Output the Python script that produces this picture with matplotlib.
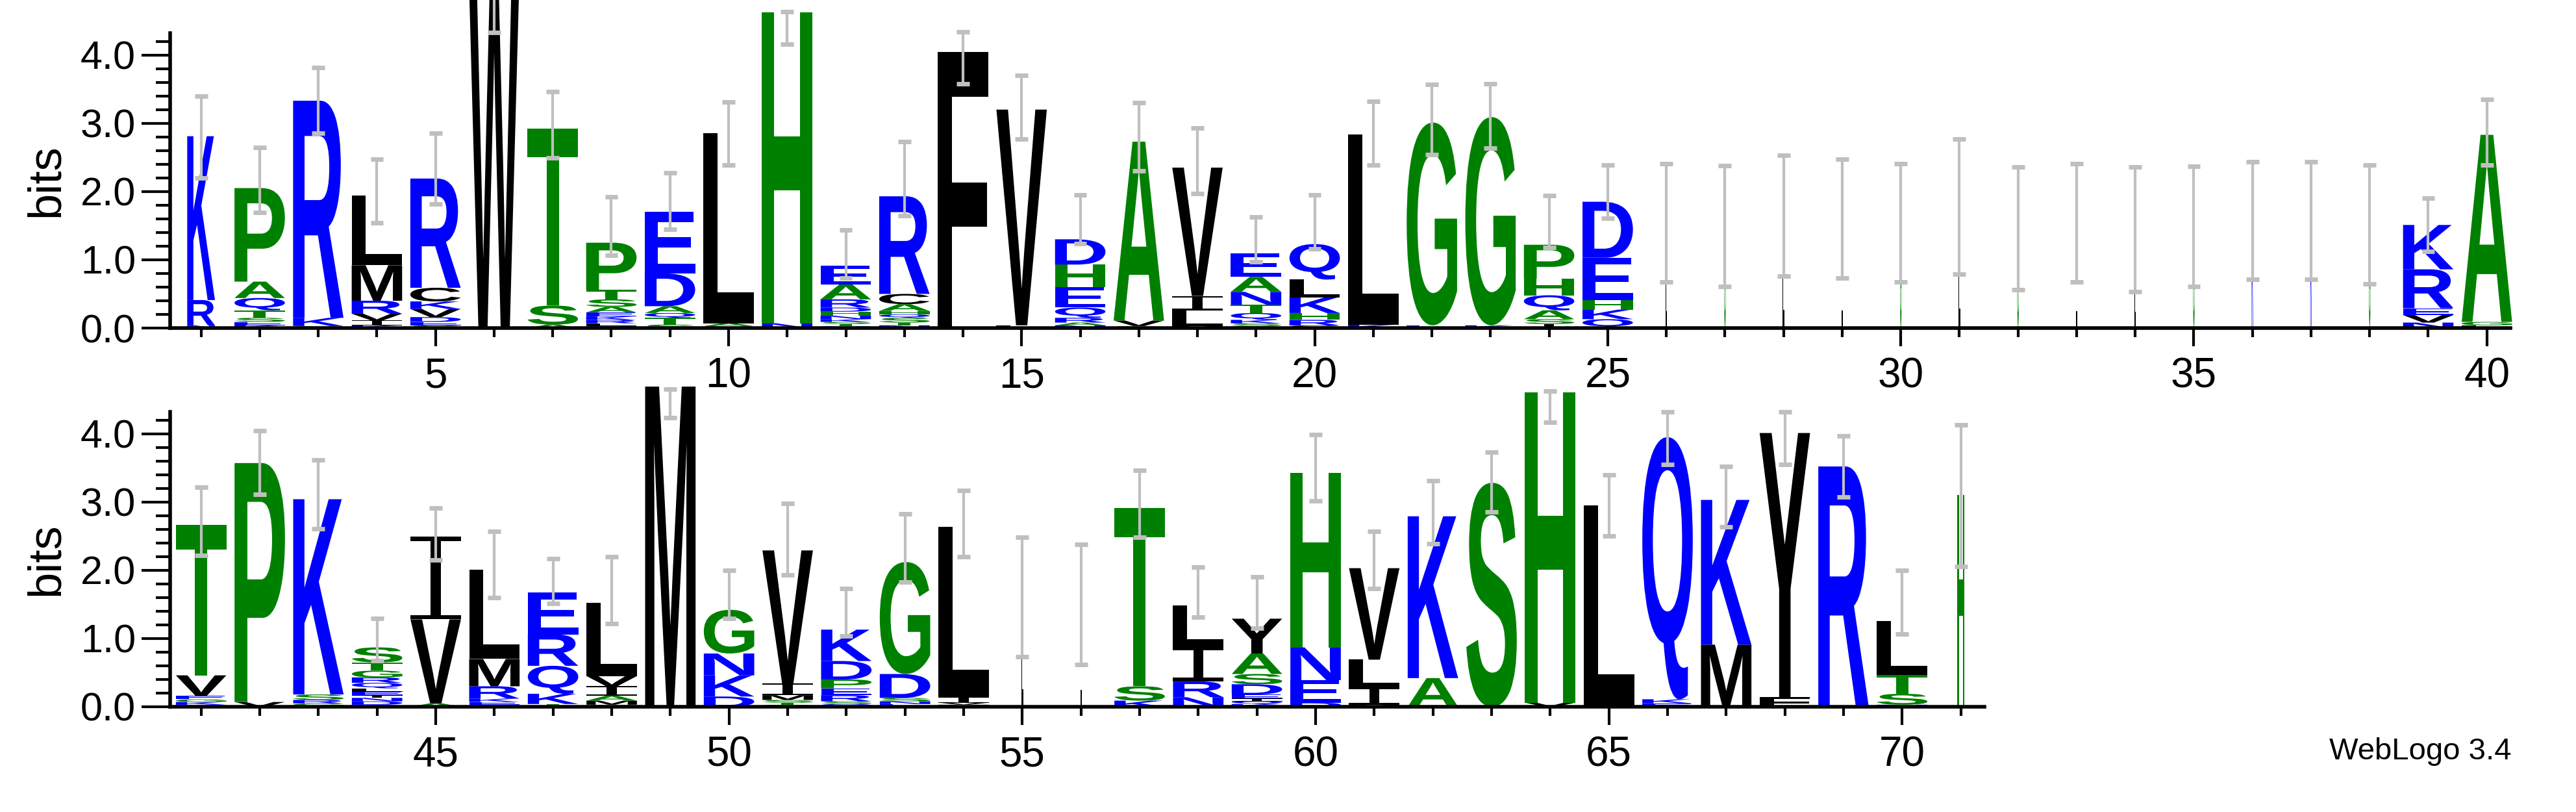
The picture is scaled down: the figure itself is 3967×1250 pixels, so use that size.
import matplotlib
matplotlib.use("Agg")
import matplotlib.pyplot as plt
from matplotlib.textpath import TextPath
from matplotlib.patches import PathPatch, Rectangle
from matplotlib.font_manager import FontProperties
from matplotlib.transforms import Affine2D

# letters per position, listed top to bottom, with their heights in bits
letters = [
    "KRN", "PAQTSEK", "RKS", "LMRVIK", "RCKVDES", "W", "TSA", "PTSAEKRLQ",
    "EDAQTS", "LAS", "HN", "EARDHNKSTQ", "RCAHQSTN", "F", "VL", "DHEQRAN",
    "AVS", "VILM", "EANTQKSG", "QLKHRC", "LK", "GE", "GK", "PHQASI",
    "DEHKQ", "L", "G", "L", "L", "G", "L", "G", "L", "L", "G", "K", "K", "G",
    "KREVN", "AGL",
    "TVEGKR", "PV", "KSRG", "STGRQLEINDK", "IVA", "LMRKEQ", "ERQKT",
    "LVIAMS", "M", "GNKD", "VIMSTG", "KDPERSQ", "GDSNE", "LIVM", "L", "L",
    "TSK", "LIRN", "YASDEIQK", "HNED", "VLIM", "KA", "S", "HV", "L", "QKE",
    "KM", "YF", "R", "LTSN", "H",
]
heights = [
    [2.40, 0.37, 0.04], [1.37, 0.24, 0.18, 0.11, 0.06, 0.05, 0.04],
    [3.18, 0.12, 0.03], [1.02, 0.52, 0.19, 0.10, 0.07, 0.04],
    [1.60, 0.20, 0.11, 0.12, 0.07, 0.05, 0.04], [5.10], [2.59, 0.28, 0.05],
    [0.69, 0.14, 0.11, 0.08, 0.06, 0.05, 0.05, 0.04, 0.03],
    [0.90, 0.48, 0.10, 0.07, 0.10, 0.05], [2.78, 0.04, 0.03], [4.55, 0.07],
    [0.27, 0.22, 0.12, 0.06, 0.06, 0.05, 0.04, 0.03, 0.03, 0.03],
    [1.43, 0.15, 0.10, 0.05, 0.05, 0.07, 0.04, 0.04], [4.04], [3.16, 0.04],
    [0.37, 0.33, 0.30, 0.15, 0.07, 0.04, 0.04], [2.62, 0.08, 0.03],
    [1.88, 0.21, 0.23, 0.03], [0.34, 0.22, 0.19, 0.12, 0.10, 0.05, 0.04, 0.03],
    [0.52, 0.26, 0.23, 0.10, 0.08, 0.04], [2.79, 0.05], [2.97, 0.04],
    [3.05, 0.04], [0.50, 0.24, 0.22, 0.13, 0.07, 0.06],
    [0.82, 0.62, 0.14, 0.14, 0.13],
    [1.55], [1.50], [1.64], [1.59], [1.54], [1.79], [1.45], [1.54], [1.45],
    [1.50], [1.57], [1.57], [1.52],
    [0.65, 0.57, 0.10, 0.11, 0.08], [2.74, 0.05, 0.04],
    [2.20, 0.30, 0.05, 0.04, 0.04, 0.03], [3.50, 0.07], [2.86, 0.08, 0.05, 0.05],
    [0.22, 0.12, 0.10, 0.08, 0.08, 0.05, 0.05, 0.04, 0.05, 0.05, 0.03],
    [1.21, 1.23, 0.05], [1.31, 0.40, 0.18, 0.05, 0.04, 0.03],
    [0.61, 0.46, 0.41, 0.15, 0.04], [1.07, 0.15, 0.14, 0.07, 0.06, 0.03],
    [4.69], [0.64, 0.32, 0.31, 0.15], [1.95, 0.17, 0.07, 0.04, 0.03, 0.03],
    [0.46, 0.27, 0.13, 0.10, 0.09, 0.04, 0.04], [1.64, 0.35, 0.05, 0.04, 0.04],
    [2.50, 0.08, 0.03, 0.03], [1.59], [1.50], [2.61, 0.21, 0.09],
    [0.59, 0.52, 0.23, 0.14], [0.51, 0.30, 0.15, 0.15, 0.06, 0.04, 0.04, 0.04],
    [2.56, 0.48, 0.33, 0.06], [1.34, 0.40, 0.26, 0.03], [2.37, 0.42], [3.28],
    [4.55, 0.06], [2.95], [3.84, 0.06, 0.05], [2.12, 0.91], [3.87, 0.14],
    [3.52], [0.79, 0.28, 0.16, 0.03], [3.10],
]
# fraction of full column width (narrow = mostly gaps)
col_width = [0.55] + [1.0] * 24 + [0.03] * 13 + [1.0] * 16 + [0.03] * 2 + [1.0] * 14 + [0.15]
err_hi = [
    3.40, 2.65, 3.82, 2.47, 2.85, 5.90, 3.46, 1.92, 2.27, 3.31, 4.63, 1.44, 2.73,
    4.34, 3.70, 1.95, 3.30, 2.93, 1.63, 1.95, 3.32, 3.57, 3.58, 1.94, 2.39, 2.41,
    2.38, 2.53, 2.47, 2.41, 2.77, 2.36, 2.41, 2.36, 2.37, 2.44, 2.44, 2.39, 1.90,
    3.35,
    3.22, 4.04, 3.62, 1.29, 2.91, 2.57, 2.17, 2.20, 4.65, 2.00, 2.98, 1.73, 2.83,
    3.17, 2.48, 2.38, 3.46, 2.05, 1.90, 3.99, 2.57, 3.31, 3.73, 4.62, 3.40, 4.32,
    3.52, 4.32, 3.97, 2.00, 4.13,
]
err_lo = [
    2.20, 1.69, 2.85, 1.54, 1.82, 4.33, 2.49, 1.07, 1.45, 2.39, 4.16, 0.73, 1.65,
    3.58, 2.77, 1.24, 2.30, 1.97, 0.97, 1.16, 2.39, 2.54, 2.64, 1.18, 1.61, 0.68,
    0.61, 0.76, 0.73, 0.68, 0.79, 0.56, 0.68, 0.53, 0.61, 0.71, 0.71, 0.65, 1.12,
    2.39,
    2.22, 3.11, 2.61, 0.68, 2.15, 1.60, 1.51, 1.22, 4.23, 1.29, 1.93, 1.04, 1.83,
    2.20, 0.73, 0.62, 2.48, 1.31, 1.15, 3.02, 1.73, 2.39, 2.85, 4.17, 2.50, 3.55,
    2.64, 3.55, 3.07, 1.07, 2.06,
]

colors = {}
for c in "KRDEQN":
    colors[c] = "#0000ff"
for c in "GSTAPH":
    colors[c] = "#008000"
for c in "LMWFVIYC":
    colors[c] = "#000000"

font = FontProperties(family="Liberation Sans", weight="bold")
glyphs = {}


def draw_letter(ax, ch, x, y0, w, h):
    if ch == "I":
        # serif I: thin stem with bars top and bottom
        bar = min(0.12 * h, 0.06)
        stem = 0.2 * w
        for r in [Rectangle((x - w / 2, y0), w, bar),
                  Rectangle((x - w / 2, y0 + h - bar), w, bar),
                  Rectangle((x - stem / 2, y0), stem, h)]:
            r.set_facecolor(colors[ch])
            r.set_linewidth(0)
            r.set_clip_on(False)
            r.set_zorder(2)
            ax.add_patch(r)
        return
    if ch not in glyphs:
        glyphs[ch] = TextPath((0, 0), ch, size=1, prop=font)
    p = glyphs[ch]
    ext = p.get_extents()
    t = (Affine2D().translate(-ext.x0, -ext.y0)
         .scale(w / ext.width, h / ext.height)
         .translate(x - w / 2, y0))
    patch = PathPatch(t.transform_path(p), facecolor=colors[ch], lw=0,
                      clip_on=False, zorder=2)
    ax.add_patch(patch)


fig = plt.figure(figsize=(39.67, 12.5), dpi=100)
ax1 = fig.add_axes([0.066, 0.596, 0.9085, 0.3632])
ax2 = fig.add_axes([0.066, 0.1296, 0.7043, 0.3632])

for ax, first, last in [(ax1, 1, 40), (ax2, 41, 71)]:
    for pos in range(first, last + 1):
        i = pos - 1
        w = 0.86 * col_width[i]
        y = 0.0
        for ch, h in zip(reversed(letters[i]), reversed(heights[i])):
            draw_letter(ax, ch, pos, y, w, h)
            y += h
        ax.plot([pos, pos], [err_lo[i], err_hi[i]], color="#bfbfbf", lw=3,
                zorder=3, clip_on=False, solid_capstyle="butt")
        ax.plot([pos - 0.11, pos + 0.11], [err_lo[i]] * 2, color="#bfbfbf",
                lw=5, zorder=3, clip_on=False, solid_capstyle="butt")
        ax.plot([pos - 0.11, pos + 0.11], [err_hi[i]] * 2, color="#bfbfbf",
                lw=5, zorder=3, clip_on=False, solid_capstyle="butt")
    ax.set_xlim(first - 0.53, last + 0.4)
    ax.set_ylim(0, 4.32)
    ax.set_xticks(range(first, last + 1), minor=True)
    ax.set_xticks([p for p in range(first, last + 1) if p % 5 == 0])
    ax.set_yticks([0, 1, 2, 3, 4])
    ax.set_yticklabels(["0.0", "1.0", "2.0", "3.0", "4.0"])
    ax.set_yticks([k * 0.2 for k in range(22)], minor=True)
    ax.tick_params(axis="both", which="major", width=3, direction="out")
    ax.tick_params(axis="both", which="minor", width=3, direction="out")
    ax.tick_params(axis="x", which="major", length=20, labelsize=46, pad=12)
    ax.tick_params(axis="x", which="minor", length=10)
    ax.tick_params(axis="y", which="major", length=32, labelsize=44, pad=6)
    ax.tick_params(axis="y", which="minor", length=16)
    for lab in ax.get_xticklabels() + ax.get_yticklabels():
        lab.set_family("Liberation Sans")
    ax.spines["top"].set_visible(False)
    ax.spines["right"].set_visible(False)
    ax.spines["left"].set_linewidth(4)
    ax.spines["bottom"].set_linewidth(4)
    ax.set_ylabel("bits", fontsize=52, family="Liberation Sans", labelpad=14)

fig.text(0.975, 0.057, "WebLogo 3.4", ha="right", va="bottom", fontsize=34,
         family="Liberation Sans")

fig.savefig("out.png", dpi=100)
